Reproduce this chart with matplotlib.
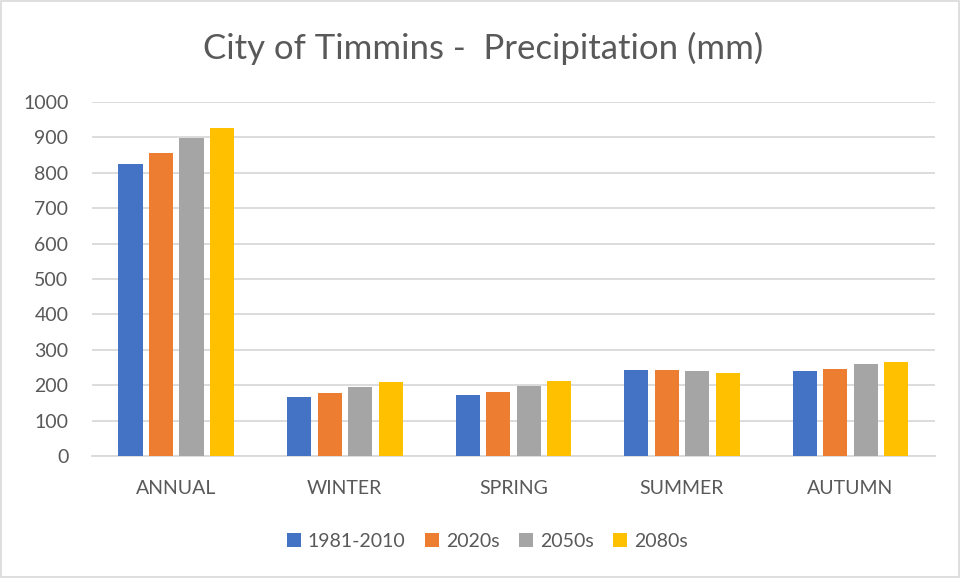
import matplotlib
matplotlib.use("Agg")
import matplotlib.pyplot as plt
import numpy as np
from matplotlib.patches import Rectangle

plt.rcParams['font.family'] = ['Lato', 'DejaVu Sans']

categories = ["ANNUAL", "WINTER", "SPRING", "SUMMER", "AUTUMN"]
series_names = ["1981-2010", "2020s", "2050s", "2080s"]
v_1981_2010 = [825, 166, 173, 242, 240]
v_2020s = [856, 178, 182, 242, 247]
v_2050s = [897, 194, 198, 241, 259]
v_2080s = [926, 210, 212, 234, 265]
colors = ["#4472C4", "#ED7D31", "#A5A5A5", "#FFC000"]

fig = plt.figure(figsize=(9.61, 5.78), dpi=100)
ax = fig.add_axes([0.0957, 0.211, 0.877, 0.6125])

x = np.arange(len(categories))
slot = 0.181
for i, vals in enumerate([v_1981_2010, v_2020s, v_2050s, v_2080s]):
    ax.bar(x + (i - 1.5) * slot, vals, width=0.143, color=colors[i],
           label=series_names[i], zorder=3)

ax.set_xlim(-0.5, len(categories) - 0.5)
ax.set_ylim(0, 1000)
ax.set_yticks(range(0, 1001, 100))
ax.set_xticks(x)
ax.set_xticklabels(categories)
ax.tick_params(axis='both', length=0, labelsize=14, labelcolor="#595959")
ax.tick_params(axis='x', pad=17)
ax.tick_params(axis='y', pad=17)
ax.grid(axis='y', color="#d9d9d9", linewidth=1.3, zorder=0)
for s in ["top", "right", "left"]:
    ax.spines[s].set_visible(False)
ax.spines["bottom"].set_color("#d9d9d9")
ax.spines["bottom"].set_linewidth(1.3)

fig.text(0.503, 0.917, "City of Timmins -  Precipitation (mm)", ha="center", va="center",
         fontsize=25, color="#595959")

fig.legend(loc="center", bbox_to_anchor=(0.507, 0.064), ncol=4, frameon=False,
           fontsize=14, labelcolor="#595959", handlelength=0.72, handleheight=0.72,
           handletextpad=0.36, columnspacing=1.0)

fig.patches.append(Rectangle((0.001, 0.001), 0.997, 0.997, transform=fig.transFigure,
                             fill=False, edgecolor="#d9d9d9", linewidth=1.2))

fig.savefig("out.png", dpi=100)
